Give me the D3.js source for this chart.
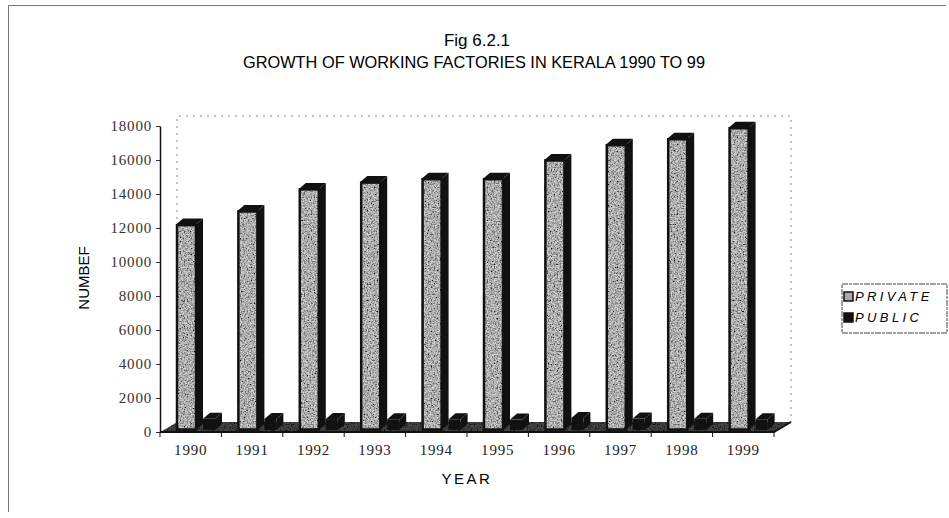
<!DOCTYPE html>
<html>
<head>
<meta charset="utf-8">
<script src="https://cdn.jsdelivr.net/npm/d3@7"></script>
<style>
  body { margin: 0; background: #fff; }
  svg { display: block; }
</style>
</head>
<body>
<svg id="grafico"></svg>
<script>
// Datos
var years = ['1990', '1991', '1992', '1993', '1994', '1995', '1996', '1997', '1998', '1999'];
var series = ['PRIVATE', 'PUBLIC'];
var privateFactories = [12200, 13000, 14300, 14700, 14900, 14900, 16000, 16900, 17250, 17900];
var publicFactories = [780, 770, 760, 750, 750, 730, 830, 790, 780, 750];
var yTicks = [0, 2000, 4000, 6000, 8000, 10000, 12000, 14000, 16000, 18000];

var anchura = 949,
    altura = 518;

var svg = d3.select('#grafico')
    .attr('width', anchura)
    .attr('height', altura);

// Textura granulada (imitar el escaneado)
var defs = svg.append('defs');
var grano = defs.append('filter').attr('id', 'grano')
    .attr('x', 0).attr('y', 0).attr('width', '100%').attr('height', '100%');
grano.append('feTurbulence').attr('type', 'fractalNoise').attr('baseFrequency', 0.7)
    .attr('numOctaves', 2).attr('seed', 5).attr('result', 'ruido');
grano.append('feColorMatrix').attr('in', 'ruido').attr('type', 'saturate').attr('values', 0).attr('result', 'gris');
var tr = grano.append('feComponentTransfer').attr('in', 'gris').attr('result', 'gris2');
['feFuncR', 'feFuncG', 'feFuncB'].forEach(function (f) {
    tr.append(f).attr('type', 'linear').attr('slope', 2.8).attr('intercept', -0.75);
});
tr.append('feFuncA').attr('type', 'linear').attr('slope', 0).attr('intercept', 1);
grano.append('feBlend').attr('in', 'SourceGraphic').attr('in2', 'gris2').attr('mode', 'multiply').attr('result', 'mezcla');
grano.append('feComposite').attr('in', 'mezcla').attr('in2', 'SourceGraphic').attr('operator', 'in');

// Escalas
var x = d3.scaleBand().domain(years).range([160, 774]);
var x1 = d3.scaleBand().domain(series).range([16, 70]);
var y = d3.scaleLinear().domain([0, 18000]).range([432, 126]);

var profX = 17, profY = -10;   // profundidad del suelo y paredes
var barX = 7, barY = -6;       // profundidad de cada columna
var anchoFrente = { PRIVATE: 20, PUBLIC: 12 };

// Marco exterior
svg.append('path')
    .attr('d', 'M8.5,512 L8.5,5.5 L946,5.5')
    .attr('fill', 'none')
    .attr('stroke', '#777')
    .attr('stroke-width', 1);

// Titulos
svg.append('text')
    .attr('x', 477).attr('y', 46)
    .attr('text-anchor', 'middle')
    .style('font', '17px "Liberation Sans", Arial, sans-serif')
    .text('Fig 6.2.1');
svg.append('text')
    .attr('x', 474).attr('y', 68)
    .attr('text-anchor', 'middle')
    .attr('textLength', 462)
    .attr('lengthAdjust', 'spacingAndGlyphs')
    .style('font', '17px "Liberation Sans", Arial, sans-serif')
    .text('GROWTH OF WORKING FACTORIES IN KERALA 1990 TO 99');

// Paredes del fondo (punteadas)
var x0 = x.range()[0], xf = x.range()[1];
svg.append('path')
    .attr('d', 'M' + (x0 + profX) + ',' + (y(0) + profY) + ' L' + (x0 + profX) + ',' + (y(18000) + profY) +
        ' L' + (xf + profX) + ',' + (y(18000) + profY) + ' L' + (xf + profX) + ',' + (y(0) + profY))
    .attr('fill', 'none')
    .attr('stroke', '#888')
    .attr('stroke-width', 1)
    .attr('stroke-dasharray', '2 5');

// Suelo
svg.append('polygon')
    .attr('points', [[x0, y(0)], [xf, y(0)], [xf + profX, y(0) + profY], [x0 + profX, y(0) + profY]].join(' '))
    .attr('fill', '#4a4a4a')
    .attr('filter', 'url(#grano)');

// Columnas
var datos = [];
years.forEach(function (a, i) {
    datos.push({ anio: a, serie: 'PRIVATE', valor: privateFactories[i] });
    datos.push({ anio: a, serie: 'PUBLIC', valor: publicFactories[i] });
});

var columnas = svg.append('g').selectAll('g')
    .data(datos)
    .join('g');

columnas.each(function (d) {
    var g = d3.select(this);
    var izq = x(d.anio) + x1(d.serie);
    var w = anchoFrente[d.serie];
    var arriba = y(d.valor);
    var abajo = y(0) - 2;
    var oscuro = '#111';
    // lateral
    g.append('polygon')
        .attr('points', [[izq + w, arriba], [izq + w + barX, arriba + barY], [izq + w + barX, abajo + barY], [izq + w, abajo]].join(' '))
        .attr('fill', oscuro);
    // tapa
    g.append('polygon')
        .attr('points', [[izq, arriba], [izq + barX, arriba + barY], [izq + w + barX, arriba + barY], [izq + w, arriba]].join(' '))
        .attr('fill', oscuro);
    // frente
    var frente = g.append('rect')
        .attr('x', izq).attr('y', arriba)
        .attr('width', w).attr('height', abajo - arriba);
    if (d.serie === 'PRIVATE') {
        frente.attr('fill', '#d2d2d2').attr('filter', 'url(#grano)');
        g.append('rect')
            .attr('x', izq + 1).attr('y', arriba + 0.5)
            .attr('width', w - 1).attr('height', abajo - arriba - 1)
            .attr('fill', 'none').attr('stroke', oscuro).attr('stroke-width', 2.5);
    } else {
        frente.attr('fill', oscuro);
    }
});

// Eje Y
var ejeY = svg.append('g')
    .attr('transform', 'translate(' + x0 + ',0)')
    .call(d3.axisLeft(y).tickValues(yTicks).tickSize(4).tickSizeOuter(0).tickPadding(4).tickFormat(function (d) { return d; }));
ejeY.select('.domain').attr('stroke', '#111').attr('stroke-width', 1.5);
ejeY.selectAll('.tick line').attr('stroke', '#333');
ejeY.selectAll('text')
    .style('font', '15px "Liberation Serif", "Times New Roman", serif')
    .style('letter-spacing', '0.8px')
    .attr('fill', '#333');

// Eje X
var ejeX = svg.append('g');
ejeX.append('path')
    .attr('d', 'M' + x0 + ',' + y(0) + ' L' + xf + ',' + y(0) + ' L' + (xf + profX) + ',' + (y(0) + profY))
    .attr('fill', 'none').attr('stroke', '#111').attr('stroke-width', 2);
ejeX.selectAll('.marca')
    .data(years.map(function (a) { return x(a); }).concat([xf]))
    .join('line')
    .attr('class', 'marca')
    .attr('x1', function (d) { return d; }).attr('x2', function (d) { return d; })
    .attr('y1', y(0)).attr('y2', y(0) + 5)
    .attr('stroke', '#111').attr('stroke-width', 1);
ejeX.selectAll('.etiqueta')
    .data(years)
    .join('text')
    .attr('class', 'etiqueta')
    .attr('x', function (d) { return x(d) + x.bandwidth() / 2; })
    .attr('y', 455)
    .attr('text-anchor', 'middle')
    .style('font', '15px "Liberation Serif", "Times New Roman", serif')
    .style('letter-spacing', '0.8px')
    .attr('fill', '#222')
    .text(function (d) { return d; });

// Titulos de ejes
svg.append('text')
    .attr('transform', 'translate(89,278) rotate(-90)')
    .attr('text-anchor', 'middle')
    .style('font', '15px "Liberation Sans", Arial, sans-serif')
    .text('NUMBEF');
svg.append('text')
    .attr('x', 467).attr('y', 484)
    .attr('text-anchor', 'middle')
    .style('font', '15px "Liberation Sans", Arial, sans-serif')
    .style('letter-spacing', '2.5px')
    .text('YEAR');

// Leyenda
var leyenda = svg.append('g').attr('transform', 'translate(842,284)');
leyenda.append('rect')
    .attr('width', 105).attr('height', 49)
    .attr('fill', 'none').attr('stroke', '#444').attr('stroke-width', 1)
    .attr('stroke-dasharray', '6 1 3 1');
var item = leyenda.selectAll('.item')
    .data(series)
    .join('g')
    .attr('class', 'item')
    .attr('transform', function (d, i) { return 'translate(2,' + (8 + i * 21) + ')'; });
item.append('rect')
    .attr('width', 9).attr('height', 9)
    .attr('fill', function (d) { return d === 'PRIVATE' ? '#aaa' : '#111'; })
    .attr('stroke', '#111').attr('stroke-width', 1.5);
item.append('text')
    .attr('x', 11).attr('y', 9)
    .style('font', 'italic 13px "Liberation Sans", Arial, sans-serif')
    .style('letter-spacing', '3.4px')
    .text(function (d) { return d; });
</script>
</body>
</html>
